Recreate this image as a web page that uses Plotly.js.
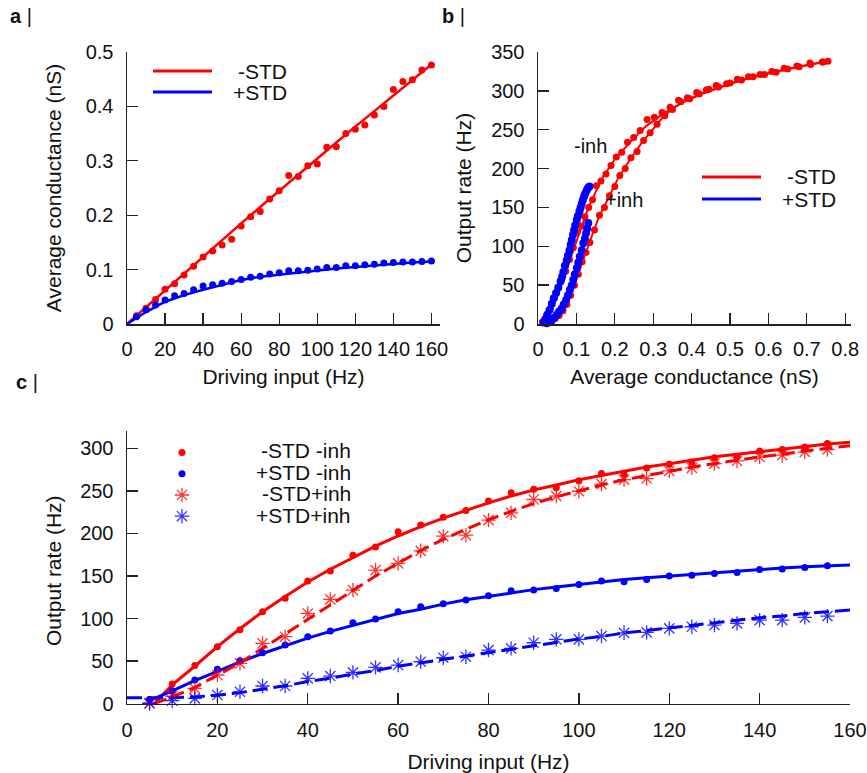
<!DOCTYPE html>
<html>
<head>
<meta charset="utf-8">
<script src="https://cdn.plot.ly/plotly-3.0.1.min.js"></script>
<style>html,body{margin:0;padding:0;background:#fff}#chart{width:867px;height:773px}</style>
</head>
<body>
<div id="chart"></div>
<script>
// ---------- Panel a: average conductance vs driving input ----------
const inputA = [5,10,15,20,25,30,35,40,45,50,55,60,65,70,75,80,85,90,95,100,105,110,115,120,125,130,135,140,145,150,155,160];
const condNoSTD = [0.015,0.029,0.045,0.064,0.074,0.090,0.106,0.123,0.134,0.145,0.156,0.180,0.197,0.207,0.230,0.245,0.273,0.271,0.291,0.294,0.325,0.326,0.350,0.358,0.366,0.384,0.400,0.431,0.446,0.449,0.467,0.476];
const condSTD = [0.0135,0.026,0.035,0.044,0.052,0.056,0.063,0.070,0.072,0.075,0.078,0.082,0.086,0.088,0.092,0.094,0.098,0.098,0.099,0.101,0.104,0.104,0.107,0.107,0.109,0.110,0.112,0.113,0.114,0.114,0.115,0.116];
const fitInputA = [0,10,20,30,40,50,60,70,80,90,100,110,120,130,140,150,160];
const fitCondNoSTD = [0,0.031,0.0625,0.0934,0.1241,0.1547,0.185,0.2151,0.245,0.2748,0.3043,0.3336,0.3628,0.3917,0.4204,0.449,0.477];
const fitCondSTD = [0,0.022,0.041,0.053,0.063,0.072,0.081,0.087,0.091,0.095,0.099,0.102,0.105,0.108,0.110,0.113,0.115];

// ---------- Panel b: output rate vs average conductance ----------
const gNoInh = [0.012,0.022,0.032,0.042,0.052,0.062,0.072,0.082,0.092,0.102,0.112,0.122,0.132,0.142,0.152,0.164,0.177,0.19,0.204,0.218,0.233,0.249,0.266,0.284,0.303,0.323,0.344,0.366,0.389,0.413,0.438,0.464,0.491,0.519,0.548,0.578,0.609,0.641,0.674,0.708,0.743,0.755];
const rNoInh = [3,9,20,33,46,58,68,83,98,118,126,138,150,160,178,184,193,204,215,221,234,240,249,263,266,272,279,288,291,298,301,307,309,315,318,321,325,329,332,336,337,338];
const gInh = [0.025,0.035,0.045,0.055,0.065,0.075,0.085,0.095,0.105,0.115,0.125,0.135,0.147,0.16,0.173,0.186,0.2,0.213,0.227,0.242,0.258,0.275,0.292,0.31,0.33,0.35,0.372,0.395,0.42,0.445,0.47,0.5,0.53,0.56,0.59,0.62,0.65,0.68,0.71,0.74];
const rInh = [1,3,7,11,17,25,37,50,64,80,92,105,121,140,150,165,177,191,200,214,222,236,246,257,268,276,286,290,296,302,305,310,314,318,321,324,328,331,334,337];
const fitGNoInh = [0.01,0.03,0.05,0.07,0.09,0.11,0.13,0.15,0.17,0.2,0.24,0.28,0.33,0.38,0.43,0.48,0.53,0.58,0.63,0.68,0.75];
const fitRNoInh = [0,14,36,62,92,120,148,170,190,212,234,254,272,286,297,306,314,320,326,331,338];
const fitGInh = [0.02,0.04,0.06,0.08,0.09,0.1,0.11,0.12,0.13,0.145,0.16,0.185,0.21,0.24,0.27,0.3,0.325,0.35,0.38,0.43,0.48,0.53,0.58,0.63,0.68,0.745];
const fitRInh = [0,4,13,30,44,58,72,86,100,120,139,164,189,212,233,251,266,277,286,297,306,314,320,326,331,337];
const gSTDNoInh = [0.014,0.019,0.024,0.030,0.036,0.041,0.047,0.053,0.059,0.063,0.066,0.070,0.075,0.078,0.082,0.085,0.088,0.091,0.094,0.097,0.101,0.104,0.108,0.111,0.114,0.117,0.120,0.123,0.127,0.130,0.134];
const rSTDNoInh = [2,6,12,18,26,33,40,47,55,61,67,75,82,88,95,102,108,115,121,127,134,139,145,150,155,160,164,168,172,175,177];
const gSTDInh = [0.023,0.029,0.036,0.042,0.049,0.055,0.062,0.067,0.073,0.078,0.083,0.088,0.092,0.096,0.101,0.105,0.109,0.114,0.118,0.122,0.125,0.128,0.131];
const rSTDInh = [1,3,5,8,12,16,20,25,31,37,44,50,57,64,72,79,87,95,104,110,117,123,130];
const fitGSTDNoInh = [0.012,0.025,0.04,0.055,0.07,0.085,0.1,0.115,0.13,0.134];
const fitRSTDNoInh = [0,12,30,50,75,102,133,157,173,177];
const fitGSTDInh = [0.02,0.035,0.05,0.065,0.08,0.095,0.11,0.125,0.131];
const fitRSTDInh = [0,4,12,24,40,62,88,117,130];

// ---------- Panel c: output rate vs driving input ----------
const inputC = [5,10,15,20,25,30,35,40,45,50,55,60,65,70,75,80,85,90,95,100,105,110,115,120,125,130,135,140,145,150,155];
const rateNoSTDNoInh = [5,23,45,67,87,108,124,144,156,174.5,184,202,210,219,227,238,247.7,252,253.6,261.8,270.4,269.6,277,281.3,284,288.8,290,297,298.6,301.7,305.6];
const rateSTDNoInh = [5,15.3,27.8,40.4,50.5,59.9,68.9,78.7,85.3,95,99.4,108,113.9,117.4,121.7,126.8,132.6,133.5,135.4,140.1,144,143.2,146,149.9,151,153,154.2,157.7,158.1,160.1,162];
const rateNoSTDInh = [0.5,9,18,33.7,47.4,70.9,78.7,106,122.5,133.4,157,164.8,179.6,196.8,198,215.6,224.2,239.9,243.8,249.6,257.9,263.3,264.5,273.5,277,282,285.2,290,291.9,295.8,298.6];
const rateSTDInh = [0.5,3.5,6.3,10.2,14,20.8,20.8,29.8,32.5,36.8,42.7,45.4,49.3,54,55.2,63,65,71.6,75.6,75.6,79.5,83.3,83.8,88.5,90.4,92.4,94.4,98.2,98.2,101.4,102.9];
const fitInputC = [0,5,6,10,15,20,25,30,35,40,45,50,55,60,65,70,75,80,85,90,95,100,105,110,115,120,125,130,135,140,145,150,155,160];
const fitNoSTDNoInh = [null,null,0,22,44,67,88,108,126,143,158,172,185,197,208,218,227,236,244,251,257,263,268,273,278,282,286,290,293,296,299,302,305,307];
const fitSTDNoInh = [null,4,6,15,27,38,49,59,68,77,85,92,99,106,111,117,122,126,130,134,137,140,143,146,148,150,152,154,156,158,159.5,161,162,163];
const fitNoSTDInh = [null,null,0,8,19,33,48,65,82,100,117,134,150,165,180,193,205,216,226,235,243,250,257,263,268,273,278,282,286,290,293,297,300,303];
const fitSTDInh = [7,7,7,7,8,10,13,17,21,26,30,35,39,44,48,52,56,60,64,68,72,76,79,83,86,89,92,95,98,101,103,106,108,110];

// ---------- text ----------
const legendAB = ['-STD', '+STD'];
const legendC = ['-STD -inh', '+STD -inh', '-STD+inh', '+STD+inh'];
const titleInput = 'Driving input (Hz)';
const titleCond = 'Average conductance (nS)';
const titleRate = 'Output rate (Hz)';

const RED = '#ff0000', BLUE = '#0000ff';
const RED_A = 'rgba(255,0,0,0.8)', BLUE_A = 'rgba(0,0,255,0.8)';
const FONT = 'Liberation Sans, Arial, Helvetica, sans-serif';

function dots(x, y, color, size, xa, ya) {
  return {x: x, y: y, type: 'scatter', mode: 'markers', xaxis: xa, yaxis: ya, showlegend: false,
          cliponaxis: false, marker: {color: color, size: size}, hoverinfo: 'skip'};
}
function line(x, y, color, width, xa, ya, dash) {
  return {x: x, y: y, type: 'scatter', mode: 'lines', xaxis: xa, yaxis: ya, showlegend: false,
          connectgaps: false, line: {color: color, width: width, dash: dash || 'solid'}, hoverinfo: 'skip'};
}

const traces = [
  // panel a
  line(fitInputA, fitCondNoSTD, RED, 2.5, 'x', 'y'),
  line(fitInputA, fitCondSTD, BLUE, 2.5, 'x', 'y'),
  dots(inputA, condNoSTD, RED, 7, 'x', 'y'),
  dots(inputA, condSTD, BLUE, 7, 'x', 'y'),
  // panel b
  dots(gNoInh, rNoInh, RED, 7, 'x2', 'y2'),
  dots(gInh, rInh, RED, 7, 'x2', 'y2'),
  line(fitGNoInh, fitRNoInh, RED, 2, 'x2', 'y2'),
  line(fitGInh, fitRInh, RED, 2, 'x2', 'y2'),
  line(fitGSTDNoInh, fitRSTDNoInh, BLUE, 2.5, 'x2', 'y2'),
  line(fitGSTDInh, fitRSTDInh, BLUE, 2.5, 'x2', 'y2'),
  dots(gSTDNoInh, rSTDNoInh, BLUE, 8, 'x2', 'y2'),
  dots(gSTDInh, rSTDInh, BLUE, 8, 'x2', 'y2'),
  // panel c lines
  line(fitInputC, fitNoSTDNoInh, RED, 3, 'x3', 'y3'),
  line(fitInputC, fitSTDNoInh, BLUE, 3, 'x3', 'y3'),
  line(fitInputC, fitNoSTDInh, RED, 3, 'x3', 'y3', '13px,6px'),
  line(fitInputC, fitSTDInh, BLUE, 3, 'x3', 'y3', '15px,6px')
];
// panel c markers (legend entries)
const cSeries = [
  [rateNoSTDNoInh, RED, 'circle', 7, 0],
  [rateSTDNoInh, BLUE, 'circle', 7, 0],
  [rateNoSTDInh, RED_A, 'asterisk-open', 12, 1.3],
  [rateSTDInh, BLUE_A, 'asterisk-open', 12, 1.3]
];
cSeries.forEach(function (s, i) {
  traces.push({x: inputC, y: s[0], type: 'scatter', mode: 'markers', xaxis: 'x3', yaxis: 'y3',
    name: '', showlegend: true, cliponaxis: false, hoverinfo: 'skip',
    marker: {color: s[1], symbol: s[2], size: s[3], line: {color: s[1], width: s[4]}}});
});

function px(v) { return v / 867; }
function py(v) { return 1 - v / 773; }

const axisBase = {
  showline: true, linecolor: '#222', linewidth: 1.5, ticks: 'inside', ticklen: 11, tickwidth: 1.3,
  tickcolor: '#222', showgrid: false, zeroline: false, fixedrange: true,
  tickfont: {family: FONT, size: 20, color: '#111'}
};
function ax(extra) { return Object.assign({}, axisBase, extra); }
const titleFont = {family: FONT, size: 21, color: '#111'};

const annotations = [];
function txt(x, y, text, size, xanchor, extra) {
  annotations.push(Object.assign({x: x, y: y, xref: 'paper', yref: 'paper', text: text, showarrow: false,
    xanchor: xanchor || 'center', yanchor: 'middle', font: {family: FONT, size: size, color: '#111'}}, extra || {}));
}
// panel labels
txt(px(8), py(16), '<b>a</b> |', 20, 'left');
txt(px(440), py(16), '<b>b</b> |', 20, 'left');
txt(px(14), py(382), '<b>c</b> |', 20, 'left');
// panel c y-axis title
txt(px(53), py(571), titleRate, 21, 'center', {textangle: -90});
// legend texts panel a and b
txt(px(289), py(71), legendAB[0], 21, 'right');
txt(px(289), py(92), legendAB[1], 21, 'right');
txt(px(838), py(177), legendAB[0], 21, 'right');
txt(px(838), py(199), legendAB[1], 21, 'right');
// panel c legend texts
const cRows = [450.7, 472.3, 493.3, 515];
legendC.forEach(function (t, i) { txt(px(353), py(cRows[i]), t, 21, 'right'); });
// curve labels in b
annotations.push({x: 0.137, y: 229, xref: 'x2', yref: 'y2', text: '-inh', showarrow: false,
  font: {family: FONT, size: 20, color: '#111'}});
annotations.push({x: 0.225, y: 160, xref: 'x2', yref: 'y2', text: '+inh', showarrow: false,
  font: {family: FONT, size: 20, color: '#111'}});

const shapes = [
  {type: 'line', xref: 'paper', yref: 'paper', x0: px(153), x1: px(212), y0: py(71), y1: py(71), line: {color: RED, width: 3}},
  {type: 'line', xref: 'paper', yref: 'paper', x0: px(153), x1: px(212), y0: py(92), y1: py(92), line: {color: BLUE, width: 3}},
  {type: 'line', xref: 'paper', yref: 'paper', x0: px(702), x1: px(761), y0: py(177), y1: py(177), line: {color: RED, width: 3}},
  {type: 'line', xref: 'paper', yref: 'paper', x0: px(702), x1: px(761), y0: py(199), y1: py(199), line: {color: BLUE, width: 3}}
];

const layout = {
  width: 867, height: 773,
  margin: {l: 0, r: 0, t: 0, b: 0},
  paper_bgcolor: '#fff', plot_bgcolor: '#fff',
  font: {family: FONT, color: '#111'},
  hovermode: false,
  showlegend: true,
  legend: {x: px(162), y: py(437), xanchor: 'left', yanchor: 'top', bgcolor: 'rgba(0,0,0,0)',
    font: {family: FONT, size: 14}, tracegroupgap: 0, itemwidth: 30},
  xaxis: ax({domain: [px(127), px(440)], range: [0, 164.5], dtick: 20, tick0: 0, anchor: 'y',
    ticklabelstandoff: 6, title: {text: titleInput, font: titleFont, standoff: 11}}),
  yaxis: ax({domain: [py(324), py(52)], range: [0, 0.5], dtick: 0.1, tick0: 0, anchor: 'x',
    ticklabelstandoff: 8, title: {text: titleCond, font: titleFont, standoff: 18}}),
  xaxis2: ax({domain: [px(538), px(851)], range: [0, 0.815], dtick: 0.1, tick0: 0, anchor: 'y2',
    ticklabelstandoff: 6, title: {text: titleCond, font: titleFont, standoff: 11}}),
  yaxis2: ax({domain: [py(324), py(52)], range: [0, 350], dtick: 50, tick0: 0, anchor: 'x2',
    ticklabelstandoff: 8, title: {text: titleRate, font: titleFont, standoff: 14}}),
  xaxis3: ax({domain: [px(127), px(850)], range: [0, 160], dtick: 20, tick0: 0, anchor: 'y3',
    ticklabelstandoff: 8, title: {text: titleInput, font: titleFont, standoff: 14}}),
  yaxis3: ax({domain: [py(703.7), py(431.3)], range: [0, 320], dtick: 50, tick0: 0, anchor: 'x3',
    ticklabelstandoff: 8}),
  annotations: annotations,
  shapes: shapes
};

Plotly.newPlot('chart', traces, layout, {staticPlot: true, displayModeBar: false});
</script>
</body>
</html>
